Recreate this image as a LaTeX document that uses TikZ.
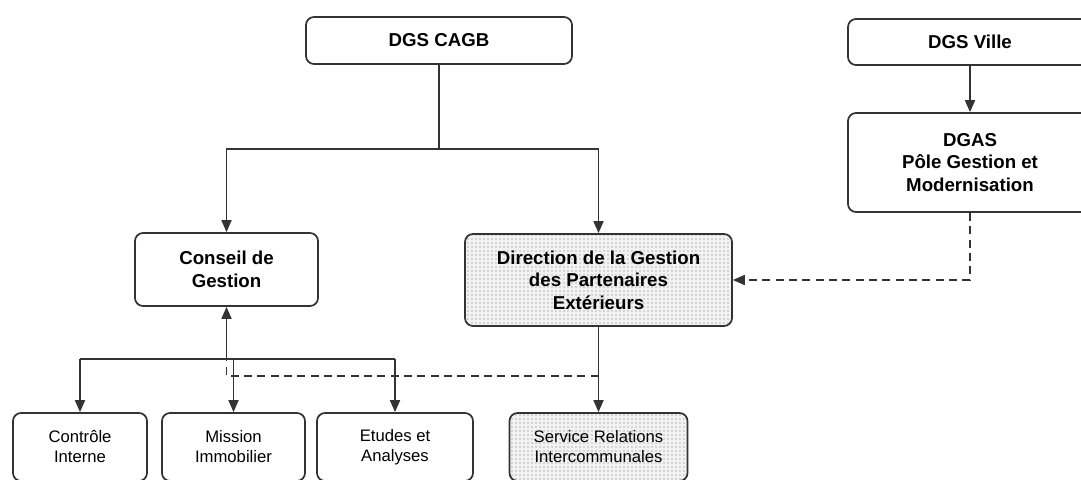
\documentclass[tikz,border=0pt]{standalone}
\usepackage{fontspec}
\setmainfont{Liberation Sans}
\usetikzlibrary{arrows.meta,patterns,calc}
\tikzstyle{line} = [draw, -{Triangle[length=9pt,width=7.5pt]}]
\tikzstyle{dashline} = [dash pattern=on 6pt off 4pt]
\tikzstyle{block} = [draw, rectangle, rounded corners=6pt, align=center, inner sep=2pt, font=\fontsize{14}{17}\selectfont\bfseries]
\tikzstyle{unit} = [draw, rectangle, rounded corners=6pt, align=center, inner sep=2pt, minimum height=51pt, font=\fontsize{12.5}{15}\selectfont]
\tikzstyle{dotted box} = [preaction={fill=gray!10}, pattern=dots, pattern color=black!55]

\begin{document}
\begin{tikzpicture}[x=0.75pt, y=-0.75pt, line width=1.3pt, draw=black!80]
        \path[use as bounding box, clip] (0,0) rectangle (1081,479);
        \node[block, minimum width=199.5pt, minimum height=35.25pt] (dgscagb) at (439,40.5) {DGS CAGB};
        \node[block, minimum width=183pt, minimum height=34.5pt] (dgsville) at (970,42) {DGS Ville};
        \node[block, minimum width=183pt, minimum height=74.25pt] (dgas) at (970,162.5) {DGAS\\Pôle Gestion et\\Modernisation};
        \node[block, minimum width=137.25pt, minimum height=54.75pt] (conseil) at (226.5,269.5) {Conseil de\\Gestion};
        \node[block, dotted box, minimum width=200.25pt, minimum height=69pt] (direction) at (598.5,280) {Direction de la Gestion\\des Partenaires\\Extérieurs};
        \node[unit, minimum width=100.5pt] (controle) at (80,447) {Contrôle\\Interne};
        \node[unit, minimum width=107.25pt] (mission) at (233.5,447) {Mission\\Immobilier};
        \node[unit, minimum width=117pt] (etudes) at (395,447) {Etudes et\\Analyses};
        \node[unit, dotted box, minimum width=133.5pt] (service) at (598.5,447) {Service Relations\\Intercommunales};
        \coordinate (split) at (439,149);
        \coordinate (fork) at (226.5,359);
        \coordinate (join) at (598.5,376);
        \draw (dgscagb) -- (split);
        \path[line] (split) -| (conseil);
        \path[line] (split) -| (direction);
        \path[line] (dgsville) -- (dgas);
        \path[line, dashline] (dgas) |- (direction);
        \path[line] (direction) -- (service);
        \path[line] (fork) -- (conseil);
        \draw (controle |- fork) -- (etudes |- fork);
        \path[line] (controle |- fork) -- (controle);
        \path[line] (mission |- fork) -- (mission);
        \path[line] (etudes |- fork) -- (etudes);
        \draw[dashline] (join) -| (fork);
    \end{tikzpicture}
\end{document}
